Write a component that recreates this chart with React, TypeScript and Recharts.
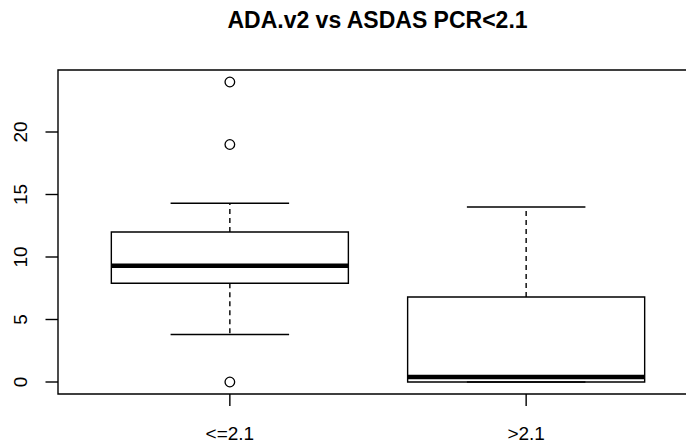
import { ComposedChart, XAxis, YAxis, ReferenceArea, ReferenceLine, Scatter } from 'recharts'

const groups = ['<=2.1', '>2.1']
const lowerWhisker = [3.8, 0]
const q1 = [7.9, 0]
const median = [9.3, 0.4]
const q3 = [12.0, 6.8]
const upperWhisker = [14.3, 14.0]
const outlierGroup = [1, 1, 1]
const outlierValues = [24, 19, 0]
const yTicks = [0, 5, 10, 15, 20]
const xTicks = [1, 2]

const BOX_HALF = 0.4
const STAPLE_HALF = 0.2
const LW = 1.4

const boxes = groups.map((name, i) => ({
  name,
  pos: i + 1,
  lo: lowerWhisker[i],
  q1: q1[i],
  med: median[i],
  q3: q3[i],
  hi: upperWhisker[i],
}))

const outlierPoints = outlierValues.map((v, k) => ({ x: outlierGroup[k], y: v }))

function XTick(props: any) {
  const { x, y, payload } = props
  return (
    <text x={x} y={y} textAnchor="middle" fontSize={19} fill="#000">
      {groups[payload.value - 1]}
    </text>
  )
}

function YTick(props: any) {
  const { x, y, payload } = props
  return (
    <text x={x} y={y} transform={`rotate(-90 ${x} ${y})`} textAnchor="middle" fontSize={19} fill="#000">
      {payload.value}
    </text>
  )
}

export default function App() {
  return (
    <div
      style={{
        position: 'absolute',
        left: 0,
        top: 0,
        width: 686,
        height: 442,
        overflow: 'hidden',
        background: '#fff',
        fontFamily: '"Liberation Sans", Arial, sans-serif',
      }}
    >
      <div
        style={{
          position: 'absolute',
          left: 0,
          top: 8.5,
          width: 755,
          textAlign: 'center',
          fontWeight: 'bold',
          fontSize: 23,
          lineHeight: '23px',
          color: '#000',
        }}
      >
        ADA.v2 vs ASDAS PCR&lt;2.1
      </div>
      <ComposedChart width={698} height={442} margin={{ top: 70, right: 0, bottom: 0, left: 0 }}>
        <XAxis
          type="number"
          dataKey="x"
          domain={[0.42, 2.58]}
          ticks={xTicks}
          interval={0}
          allowDataOverflow
          height={48}
          axisLine={false}
          stroke="#000"
          tickLine={{ stroke: '#000', strokeWidth: LW }}
          tickSize={12}
          tickMargin={33.5}
          tick={<XTick />}
        />
        <YAxis
          type="number"
          dataKey="y"
          domain={[-0.96, 24.96]}
          ticks={yTicks}
          interval={0}
          allowDataOverflow
          width={58}
          axisLine={false}
          stroke="#000"
          tickLine={{ stroke: '#000', strokeWidth: LW }}
          tickSize={12.5}
          tickMargin={18.5}
          tick={<YTick />}
        />
        <ReferenceArea
          x1={0.42}
          x2={2.58}
          y1={-0.96}
          y2={24.96}
          fill="none"
          fillOpacity={0}
          stroke="#000"
          strokeWidth={LW}
        />
        {boxes.map((b) => (
          <ReferenceArea
            key={`box-${b.name}`}
            x1={b.pos - BOX_HALF}
            x2={b.pos + BOX_HALF}
            y1={b.q1}
            y2={b.q3}
            fill="none"
            fillOpacity={0}
            stroke="#000"
            strokeWidth={LW}
          />
        ))}
        {boxes.map((b) => (
          <ReferenceLine
            key={`med-${b.name}`}
            segment={[
              { x: b.pos - BOX_HALF, y: b.med },
              { x: b.pos + BOX_HALF, y: b.med },
            ]}
            stroke="#000"
            strokeWidth={4.5}
          />
        ))}
        {boxes.map((b) => (
          <ReferenceLine
            key={`wu-${b.name}`}
            segment={[
              { x: b.pos, y: b.q3 },
              { x: b.pos, y: b.hi },
            ]}
            stroke="#000"
            strokeWidth={LW}
            strokeDasharray="5 4"
          />
        ))}
        {boxes.map((b) => (
          <ReferenceLine
            key={`wl-${b.name}`}
            segment={[
              { x: b.pos, y: b.q1 },
              { x: b.pos, y: b.lo },
            ]}
            stroke="#000"
            strokeWidth={LW}
            strokeDasharray="5 4"
          />
        ))}
        {boxes.map((b) => (
          <ReferenceLine
            key={`su-${b.name}`}
            segment={[
              { x: b.pos - STAPLE_HALF, y: b.hi },
              { x: b.pos + STAPLE_HALF, y: b.hi },
            ]}
            stroke="#000"
            strokeWidth={LW}
          />
        ))}
        {boxes.map((b) => (
          <ReferenceLine
            key={`sl-${b.name}`}
            segment={[
              { x: b.pos - STAPLE_HALF, y: b.lo },
              { x: b.pos + STAPLE_HALF, y: b.lo },
            ]}
            stroke="#000"
            strokeWidth={LW}
          />
        ))}
        <Scatter
          data={outlierPoints}
          isAnimationActive={false}
          shape={(p: any) => <circle cx={p.cx} cy={p.cy} r={4.8} fill="none" stroke="#000" strokeWidth={1.3} />}
        />
      </ComposedChart>
    </div>
  )
}
